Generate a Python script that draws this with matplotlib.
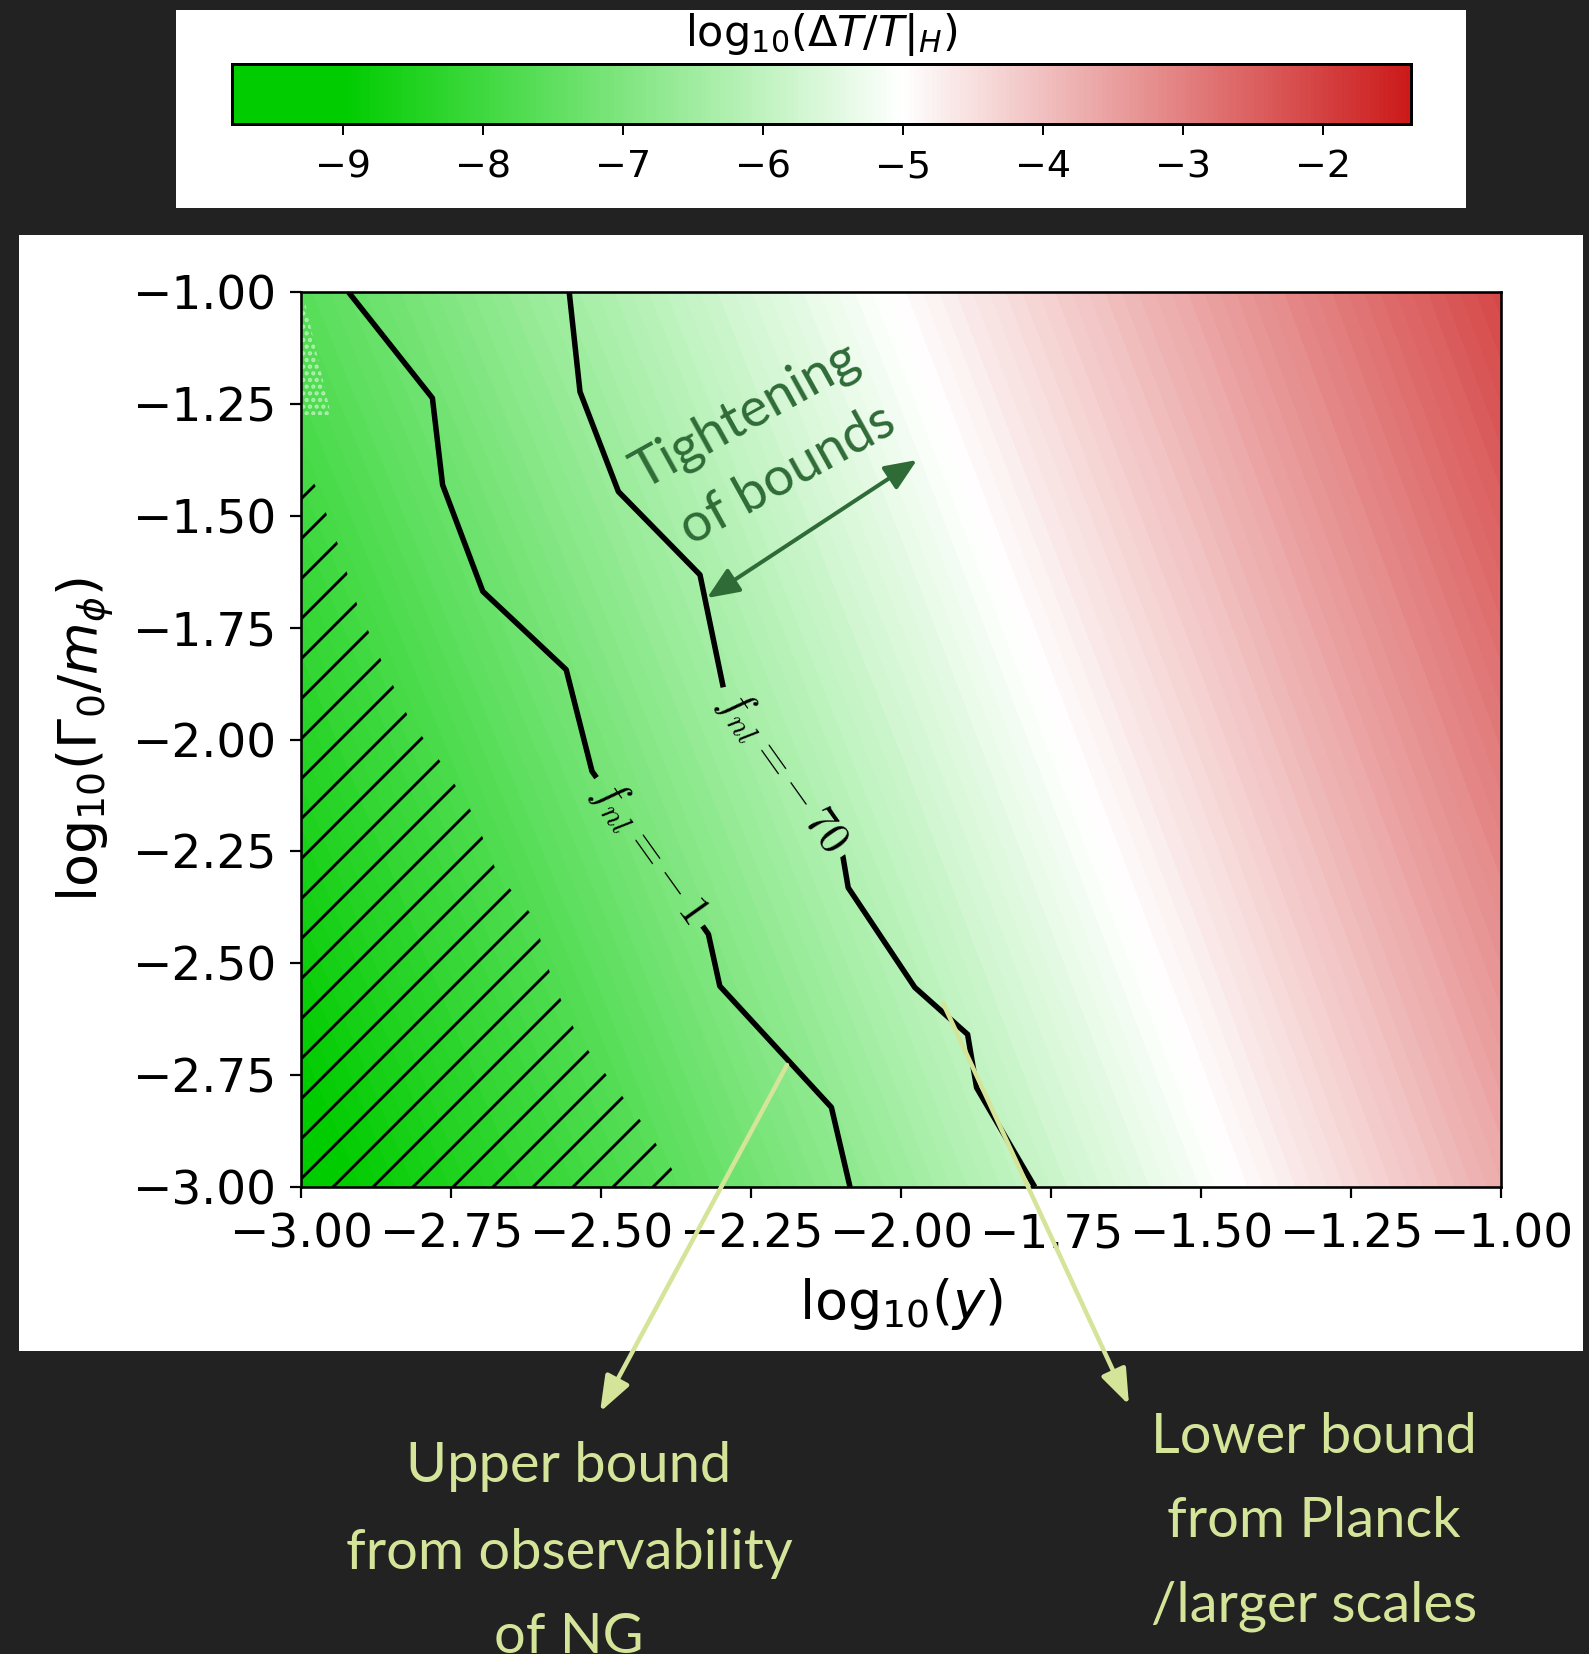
import numpy as np
import matplotlib
matplotlib.use("Agg")
import matplotlib.pyplot as plt
from matplotlib.colors import LinearSegmentedColormap, Normalize
from matplotlib.contour import ContourSet
from matplotlib.patches import Rectangle, FancyArrowPatch
import matplotlib.cm as mcm

# ---------------------------------------------------------------- data
# grid of log10(y) (columns) and log10(Gamma_0/m_phi) (rows)
log_y = [-3.0, -2.5, -2.0, -1.5, -1.0]
log_gamma = [-3.0, -2.5, -2.0, -1.5, -1.0]
# log10(Delta T / T |_H) on that grid, one row per log_gamma value
log_dT = [
    [-9.20, -7.90, -6.55, -5.15, -3.70],
    [-8.80, -7.50, -6.15, -4.75, -3.30],
    [-8.40, -7.10, -5.75, -4.35, -2.90],
    [-8.00, -6.70, -5.35, -3.95, -2.50],
    [-7.60, -6.30, -4.95, -3.55, -2.10],
]
cbar_min, cbar_max = -9.79, -1.37
cbar_ticks = [-9, -8, -7, -6, -5, -4, -3, -2]

# f_nl contours
fnl_levels = [-70, -1]
fnl_m70_x = [-2.553, -2.535, -2.471, -2.335, -2.296, -2.097, -2.088, -1.977, -1.889, -1.874, -1.777]
fnl_m70_y = [-1.000, -1.223, -1.446, -1.632, -1.885, -2.260, -2.331, -2.554, -2.659, -2.778, -3.000]
fnl_m1_x = [-2.921, -2.781, -2.764, -2.697, -2.558, -2.515, -2.321, -2.302, -2.116, -2.085]
fnl_m1_y = [-1.000, -1.237, -1.431, -1.669, -1.844, -2.071, -2.435, -2.551, -2.822, -3.000]
fnl_label_text = {-70: r"$f_{nl} = -\, 70$", -1: r"$f_{nl} = -\, 1$"}
fnl_label_pos = [(-2.195, -2.070), (-2.418, -2.250)]

# excluded (hatched) region
hatch_x = [-3.0, -3.0, -2.974, -2.937, -2.905, -2.863, -2.820, -2.763, -2.712,
           -2.673, -2.612, -2.582, -2.540, -2.482, -2.425, -2.363]
hatch_y = [-3.0, -1.375, -1.438, -1.569, -1.705, -1.833, -1.953, -2.058, -2.170,
           -2.299, -2.397, -2.536, -2.661, -2.766, -2.868, -3.0]
# small dotted patch near the upper-left corner
dots_x = [-3.0, -2.993, -2.950, -3.0]
dots_y = [-1.025, -1.025, -1.275, -1.275]

# --------------------------------------------------------------- layout
W, H, DPI = 1589, 1654, 240


def pt(px):
    return px * 72.0 / DPI


def box(left, top, right, bottom):
    return [left / W, 1 - bottom / H, (right - left) / W, (bottom - top) / H]


def inch(x, y):
    return (x / DPI, (H - y) / DPI)


plt.rcParams["hatch.linewidth"] = pt(2.9)
plt.rcParams["axes.linewidth"] = pt(2.6)

fig = plt.figure(figsize=(W / DPI, H / DPI), dpi=DPI, facecolor="#222222")

for l, t, r, b in [(176, 10, 1466, 208), (19, 235, 1583, 1351)]:
    fig.patches.append(Rectangle((l / W, 1 - b / H), (r - l) / W, (b - t) / H,
                                 transform=fig.transFigure, facecolor="white",
                                 edgecolor="none", zorder=-1))

norm = Normalize(vmin=cbar_min, vmax=cbar_max)
span = cbar_max - cbar_min
cmap = LinearSegmentedColormap.from_list(
    "green_white_red",
    [(0.0, "#00cc00"), ((-9 - cbar_min) / span, "#00cc00"),
     ((-5 - cbar_min) / span, "#ffffff"), (1.0, "#cc1a1a")])

# ----------------------------------------------------------- main panel
ax = fig.add_axes(box(301, 292, 1501, 1187))
ax.contourf(log_y, log_gamma, np.array(log_dT), levels=np.linspace(cbar_min, cbar_max, 110),
            cmap=cmap, norm=norm, zorder=0)

ax.fill(hatch_x, hatch_y, facecolor="none", edgecolor="black", linewidth=0,
        hatch="//", zorder=1)
ax.fill(dots_x, dots_y, facecolor="none", edgecolor=(0.93, 0.98, 0.93, 0.6),
        linewidth=0, hatch="......", zorder=1)

with plt.rc_context({"mathtext.fontset": "cm"}):
    segs = [[np.column_stack([fnl_m70_x, fnl_m70_y])],
            [np.column_stack([fnl_m1_x, fnl_m1_y])]]
    cs = ContourSet(ax, fnl_levels, segs, colors="black", linewidths=pt(5.5),
                    linestyles="solid", negative_linestyles="solid")
    ax.clabel(cs, fmt=fnl_label_text, manual=fnl_label_pos, inline=True,
              inline_spacing=8, fontsize=pt(45))

ax.set_xlim(-3, -1)
ax.set_ylim(-3, -1)
ax.set_xticks([-3.0, -2.75, -2.5, -2.25, -2.0, -1.75, -1.5, -1.25, -1.0])
ax.set_yticks([-3.0, -2.75, -2.5, -2.25, -2.0, -1.75, -1.5, -1.25, -1.0])
ax.tick_params(direction="out", length=pt(11), width=pt(2.2), labelsize=pt(47),
               pad=pt(14))
ax.set_xlabel(r"log$_{10}$($y$)", fontsize=pt(54))
ax.set_ylabel(r"log$_{10}$($\Gamma_0/m_\phi$)", fontsize=pt(54))
ax.xaxis.set_label_coords(0.5, -0.100)
ax.yaxis.set_label_coords(-0.153, 0.5)

# -------------------------------------------------------------- colorbar
cax = fig.add_axes(box(232, 63.5, 1411, 124))
cb = fig.colorbar(mcm.ScalarMappable(norm=norm, cmap=cmap), cax=cax,
                  orientation="horizontal", ticks=cbar_ticks)
cb.outline.set_linewidth(pt(3))
cax.tick_params(labelsize=pt(38), length=pt(11), width=pt(2), pad=pt(14))
fig.text(821 / W, 1 - 34 / H, r"log$_{10}$($\Delta T/T|_H$)", ha="center",
         va="center", fontsize=pt(43))

# ----------------------------------------------------------- annotations
green = "#2f6b37"
fig.text(745 / W, 1 - 415 / H, "Tightening", color=green, family="Lato",
         fontsize=pt(54), rotation=29, rotation_mode="anchor",
         ha="center", va="center")
fig.text(787 / W, 1 - 475 / H, "of bounds", color=green, family="Lato",
         fontsize=pt(54), rotation=29, rotation_mode="anchor",
         ha="center", va="center")
fig.add_artist(FancyArrowPatch(inch(707, 598), inch(917, 460),
                               transform=fig.dpi_scale_trans,
                               arrowstyle="<|-|>,head_length=0.9,head_width=0.38",
                               mutation_scale=pt(30), color=green, lw=pt(4),
                               shrinkA=0, shrinkB=0, zorder=5))

yellow = "#d4e59a"
for x0, y0, x1, y1 in [(787, 1065, 600, 1412), (943, 1003, 1129, 1405)]:
    fig.add_artist(FancyArrowPatch(inch(x0, y0), inch(x1, y1),
                                   transform=fig.dpi_scale_trans,
                                   arrowstyle="-|>,head_length=1.0,head_width=0.37",
                                   mutation_scale=pt(30), color=yellow, lw=pt(4.5),
                                   shrinkA=0, shrinkB=0, zorder=5))

left_lines = ["Upper bound", "from observability", "of NG"]
left_base = [1482, 1569, 1653]
right_lines = ["Lower bound", "from Planck", "/larger scales"]
right_base = [1453, 1537, 1622]
for lines, bases, xc in [(left_lines, left_base, 569), (right_lines, right_base, 1314)]:
    for s, yb in zip(lines, bases):
        fig.text(xc / W, 1 - yb / H, s, color=yellow, family="Lato",
                 fontsize=pt(56), ha="center", va="baseline")

fig.savefig("out.png", dpi=DPI, facecolor=fig.get_facecolor())
